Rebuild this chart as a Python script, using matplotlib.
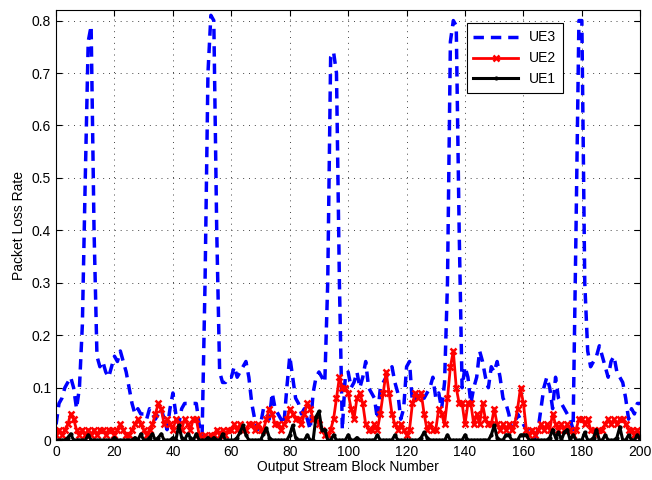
import numpy as np
import matplotlib
matplotlib.use("Agg")
import matplotlib.pyplot as plt

plt.rcParams['font.family'] = ['Liberation Sans', 'DejaVu Sans']

# output stream block numbers
blocks = np.arange(0, 201)

# UE3 packet loss rate (blue dashed)
ue3 = [0.03, 0.07, 0.08, 0.10, 0.11, 0.12, 0.10, 0.06, 0.10, 0.22,
       0.50, 0.76, 0.79, 0.40, 0.16, 0.14, 0.15, 0.13, 0.12, 0.14,
       0.16, 0.15, 0.17, 0.15, 0.13, 0.10, 0.07, 0.05, 0.06, 0.05,
       0.05, 0.04, 0.06, 0.05, 0.04, 0.05, 0.06, 0.04, 0.02, 0.06,
       0.09, 0.05, 0.03, 0.06, 0.07, 0.07, 0.07, 0.07, 0.07, 0.03,
       0.01, 0.30, 0.70, 0.81, 0.80, 0.40, 0.13, 0.11, 0.11, 0.12,
       0.12, 0.14, 0.12, 0.13, 0.14, 0.15, 0.12, 0.07, 0.04, 0.02,
       0.03, 0.06, 0.05, 0.04, 0.09, 0.06, 0.05, 0.04, 0.03, 0.10,
       0.16, 0.12, 0.08, 0.07, 0.05, 0.06, 0.04, 0.02, 0.09, 0.12,
       0.13, 0.12, 0.11, 0.30, 0.73, 0.74, 0.70, 0.30, 0.02, 0.12,
       0.13, 0.10, 0.11, 0.13, 0.10, 0.12, 0.15, 0.10, 0.09, 0.08,
       0.04, 0.10, 0.11, 0.12, 0.13, 0.14, 0.11, 0.09, 0.04, 0.06,
       0.14, 0.15, 0.07, 0.08, 0.09, 0.08, 0.08, 0.09, 0.10, 0.12,
       0.08, 0.09, 0.06, 0.11, 0.30, 0.76, 0.80, 0.79, 0.40, 0.10,
       0.14, 0.12, 0.07, 0.10, 0.12, 0.17, 0.15, 0.12, 0.10, 0.14,
       0.13, 0.15, 0.12, 0.08, 0.07, 0.05, 0.02, 0.03, 0.05, 0.04,
       0.03, 0.02, 0.02, 0.01, 0.005, 0.02, 0.06, 0.10, 0.12, 0.10,
       0.06, 0.12, 0.08, 0.07, 0.06, 0.05, 0.04, 0.02, 0.40, 0.80,
       0.80, 0.30, 0.17, 0.14, 0.15, 0.16, 0.18, 0.16, 0.14, 0.12,
       0.15, 0.16, 0.13, 0.12, 0.11, 0.08, 0.04, 0.06, 0.05, 0.07,
       0.07]

# UE2 packet loss rate (red, x markers)
ue2 = [0.01, 0.02, 0.01, 0.02, 0.03, 0.05, 0.04, 0.02, 0.01, 0.02,
       0.01, 0.02, 0.01, 0.02, 0.01, 0.02, 0.02, 0.01, 0.02, 0.02,
       0.01, 0.02, 0.03, 0.02, 0.01, 0.01, 0.02, 0.03, 0.04, 0.03,
       0.02, 0.01, 0.02, 0.03, 0.05, 0.07, 0.06, 0.03, 0.04, 0.03,
       0.02, 0.04, 0.03, 0.02, 0.04, 0.03, 0.02, 0.04, 0.04, 0.01,
       0.005, 0.01, 0.005, 0.01, 0.01, 0.02, 0.01, 0.02, 0.01, 0.02,
       0.02, 0.03, 0.02, 0.03, 0.02, 0.02, 0.03, 0.03, 0.02, 0.03,
       0.02, 0.02, 0.04, 0.06, 0.05, 0.03, 0.03, 0.02, 0.03, 0.04,
       0.06, 0.05, 0.04, 0.04, 0.03, 0.05, 0.07, 0.06, 0.04, 0.04,
       0.03, 0.02, 0.01, 0.01, 0.02, 0.04, 0.08, 0.12, 0.10, 0.10,
       0.09, 0.06, 0.04, 0.08, 0.09, 0.07, 0.03, 0.02, 0.02, 0.03,
       0.02, 0.05, 0.09, 0.13, 0.09, 0.05, 0.03, 0.02, 0.03, 0.02,
       0.01, 0.02, 0.07, 0.09, 0.08, 0.09, 0.05, 0.02, 0.03, 0.02,
       0.02, 0.06, 0.05, 0.03, 0.08, 0.14, 0.17, 0.10, 0.07, 0.07,
       0.03, 0.07, 0.07, 0.03, 0.05, 0.03, 0.07, 0.04, 0.03, 0.03,
       0.06, 0.03, 0.02, 0.03, 0.02, 0.03, 0.02, 0.03, 0.06, 0.10,
       0.07, 0.02, 0.01, 0.02, 0.01, 0.02, 0.03, 0.02, 0.03, 0.02,
       0.05, 0.03, 0.02, 0.03, 0.02, 0.03, 0.02, 0.01, 0.02, 0.04,
       0.04, 0.03, 0.04, 0.02, 0.02, 0.01, 0.02, 0.02, 0.03, 0.04,
       0.03, 0.04, 0.03, 0.04, 0.04, 0.03, 0.02, 0.02, 0.01, 0.02,
       0.01]

# UE1 packet loss rate (black, dot markers)
ue1 = [0.0, 0.0, 0.0, 0.0, 0.005, 0.012, 0.0, 0.0, 0.0, 0.0,
       0.0, 0.01, 0.0, 0.0, 0.0, 0.0, 0.0, 0.0, 0.0, 0.0,
       0.005, 0.0, 0.0, 0.0, 0.0, 0.0, 0.0, 0.005, 0.0, 0.012,
       0.0, 0.0, 0.005, 0.012, 0.0, 0.005, 0.012, 0.0, 0.0, 0.0,
       0.005, 0.0, 0.028, 0.005, 0.0, 0.012, 0.005, 0.0, 0.012, 0.0,
       0.0, 0.0, 0.005, 0.0, 0.005, 0.0, 0.0, 0.012, 0.0, 0.0,
       0.0, 0.0, 0.005, 0.015, 0.028, 0.01, 0.0, 0.0, 0.0, 0.0,
       0.0, 0.012, 0.023, 0.005, 0.0, 0.0, 0.0, 0.0, 0.0, 0.0,
       0.01, 0.028, 0.005, 0.0, 0.0, 0.0, 0.01, 0.0, 0.0, 0.045,
       0.055, 0.02, 0.02, 0.0, 0.0, 0.01, 0.0, 0.0, 0.0, 0.0,
       0.01, 0.0, 0.0, 0.005, 0.0, 0.0, 0.0, 0.0, 0.0, 0.0,
       0.01, 0.0, 0.0, 0.0, 0.0, 0.0, 0.01, 0.0, 0.0, 0.0,
       0.0, 0.0, 0.0, 0.0, 0.0, 0.005, 0.015, 0.005, 0.0, 0.0,
       0.0, 0.0, 0.0, 0.0, 0.01, 0.0, 0.0, 0.0, 0.0, 0.0,
       0.01, 0.0, 0.0, 0.0, 0.0, 0.0, 0.0, 0.0, 0.0, 0.01,
       0.028, 0.005, 0.0, 0.0, 0.01, 0.01, 0.0, 0.0, 0.0, 0.01,
       0.01, 0.01, 0.0, 0.0, 0.0, 0.0, 0.0, 0.0, 0.0, 0.005,
       0.02, 0.005, 0.015, 0.0, 0.015, 0.02, 0.0, 0.01, 0.0, 0.0,
       0.0, 0.015, 0.0, 0.0, 0.005, 0.02, 0.0, 0.0, 0.01, 0.0,
       0.0, 0.0, 0.005, 0.025, 0.0, 0.0, 0.01, 0.0, 0.0, 0.01,
       0.0]

fig = plt.figure(figsize=(6.52, 4.8), dpi=100)
ax = fig.add_axes([0.086, 0.083, 0.896, 0.896])

ax.plot(blocks, ue3, color='#0000ff', linestyle='--', linewidth=2.5,
        dashes=(3, 2), label='UE3')
ax.plot(blocks, ue2, color='#ff0000', linestyle='-', linewidth=2,
        marker='x', markersize=5, markeredgewidth=1.8, label='UE2')
ax.plot(blocks, ue1, color='black', linestyle='-', linewidth=2.2,
        marker='.', markersize=4, label='UE1')

ax.set_xlim(0, 200)
ax.set_ylim(0, 0.82)
ax.set_xticks(np.arange(0, 201, 20))
ax.set_yticks(np.arange(0, 0.81, 0.1))
ax.set_yticklabels(['0', '0.1', '0.2', '0.3', '0.4', '0.5', '0.6', '0.7', '0.8'])
ax.tick_params(direction='in', top=True, right=True, labelsize=10, length=4)
ax.grid(True, linestyle=(0, (1, 5)), color='#444444', linewidth=0.7)

ax.set_xlabel('Output Stream Block Number', fontsize=10, labelpad=1)
ax.set_ylabel('Packet Loss Rate', fontsize=10, labelpad=4)

leg = ax.legend(loc='upper right', bbox_to_anchor=(0.88, 0.985), fontsize=10,
                fancybox=False, framealpha=1, edgecolor='black',
                handlelength=3.2, borderpad=0.5, labelspacing=0.5)
leg.get_frame().set_linewidth(0.8)

fig.savefig('out.png', dpi=100)
